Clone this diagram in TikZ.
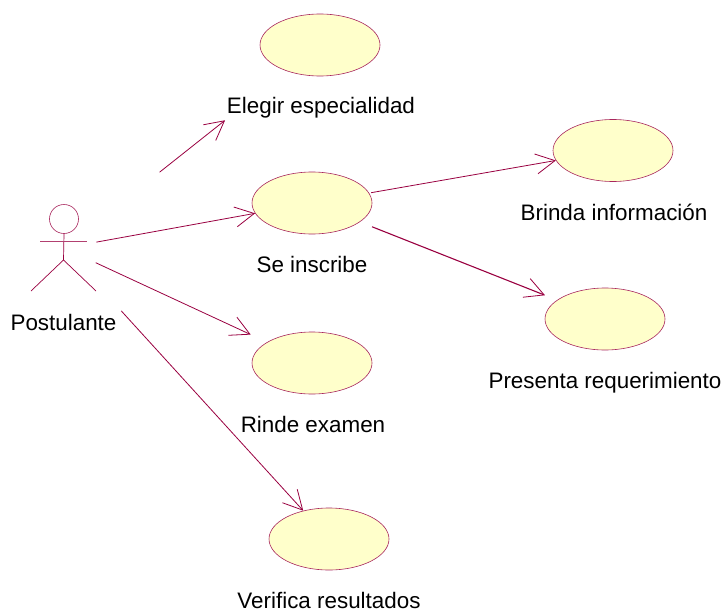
\documentclass[tikz,border=0pt]{standalone}
\usepackage{fontspec}
\setmainfont{Liberation Sans}
\usetikzlibrary{arrows.meta,shapes.geometric}
\definecolor{umlline}{HTML}{990040}
\definecolor{umlfill}{HTML}{FFFFCB}
\tikzset{
  usecase/.style={draw=umlline!85,fill=umlfill,ellipse,minimum width=120pt,minimum height=62pt,inner sep=0pt,line width=0.6pt},
  umllabel/.style={font=\fontsize{22.4}{26}\selectfont,text=black,inner sep=0pt,anchor=base},
  conn/.style={draw=umlline,line width=0.8pt,-{Straight Barb[length=19pt,width=20pt,line width=0.8pt]}},
  actorline/.style={draw=umlline,line width=0.7pt}
}
\begin{document}
\begin{tikzpicture}[x=1pt,y=-1pt]
\useasboundingbox (0,0) rectangle (722,610);
% use cases
\node[usecase] (e1) at (320,45) {};
\node[usecase] (e2) at (312,203) {};
\node[usecase] (e3) at (613,150.5) {};
\node[usecase] (e4) at (605,319) {};
\node[usecase] (e5) at (312,363) {};
\node[usecase] (e6) at (329,539) {};
% labels
\node[umllabel] (l1) at (321,113.5) {Elegir especialidad};
\node[umllabel] (l2) at (312,272.5) {Se inscribe};
\node[umllabel] (l3) at (614,220) {Brinda información};
\node[umllabel] (l4) at (605,388.5) {Presenta requerimiento};
\node[umllabel] (l5) at (313,432.5) {Rinde examen};
\node[umllabel] (l6) at (329,608.5) {Verifica resultados};
\node[umllabel] (l0) at (63.5,330) {Postulante};
% actor
\coordinate (actor) at (64,248);
\node[draw=umlline!85,circle,minimum size=29pt,inner sep=0pt,line width=0.6pt] (head) at (64,219) {};
\coordinate (armL) at (40,241);
\coordinate (armR) at (87,241);
\coordinate (hip) at (63.5,260);
\coordinate (legL) at (31,291);
\coordinate (legR) at (96,291);
\draw[actorline] (head.south) -- (hip);
\draw[actorline,line width=1pt,draw=umlline!75] (armL) -- (armR);
\draw[actorline] (legL) -- (hip) -- (legR);
% connectors
\draw[conn,shorten <=122pt,shorten >=79pt] (actor) -- (e1);
\draw[conn,shorten <=33pt] (actor) -- (e2);
\draw[conn,shorten <=35pt,shorten >=18pt] (actor) -- (e5);
\draw[conn,shorten <=85pt] (actor) -- (e6);
\draw[conn,shorten <=2pt] (e2) -- (e3);
\draw[conn,line width=1.1pt,shorten <=13pt,shorten >=13pt] (e2) -- (e4);
\end{tikzpicture}
\end{document}
